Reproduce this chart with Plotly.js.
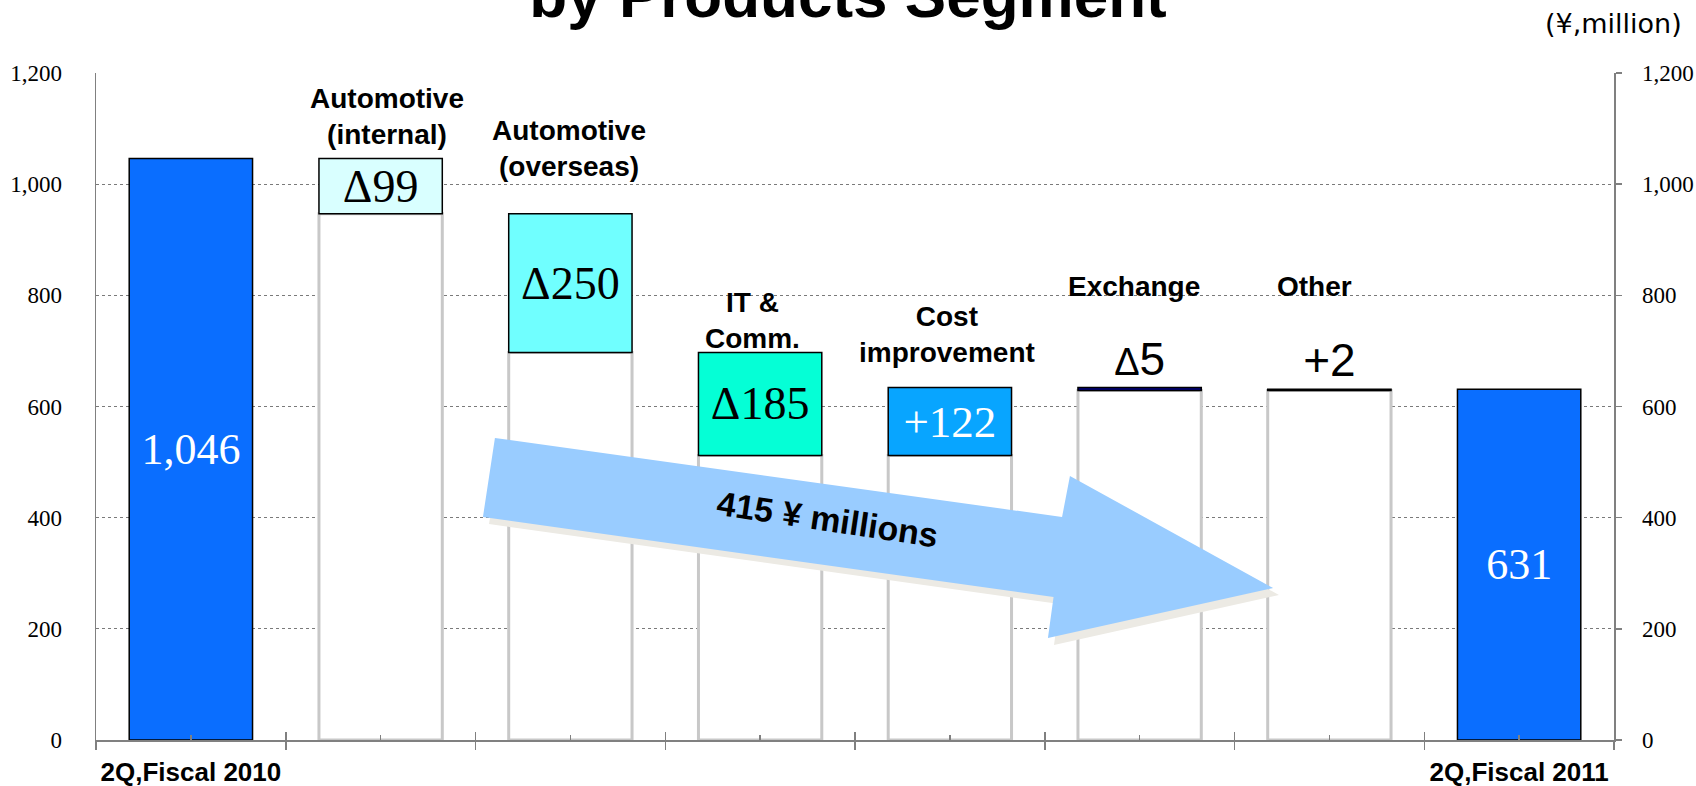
<!DOCTYPE html>
<html>
<head>
<meta charset="utf-8">
<script src="https://cdn.plot.ly/plotly-3.0.1.min.js"></script>
<style>
  html, body { margin: 0; padding: 0; background: #ffffff; }
  #chart { width: 1696px; height: 786px; }
</style>
</head>
<body>
<div id="chart"></div>
<script>
// ---------------- data ----------------
const periods = ['2Q,Fiscal 2010', '2Q,Fiscal 2011'];
const totals = [1046, 631];
const totalText = ['1,046', '631'];
const segments = ['Automotive (internal)', 'Automotive (overseas)', 'IT & Comm.', 'Cost improvement', 'Exchange', 'Other'];
const segmentLabels = ['Automotive<br>(internal)', 'Automotive<br>(overseas)', 'IT &<br>Comm.', 'Cost<br>improvement', 'Exchange', 'Other'];
const changes = [-99, -250, -185, 122, -5, 2];
const changeText = ['Δ99', 'Δ250', 'Δ185', '+122', '<span style="font-size:38px">Δ</span>5', '+2'];
const yTickVals = [0, 200, 400, 600, 800, 1000, 1200];
const arrowText = '415 ¥ millions';
const unitText = '(¥,million)';
const titleText = 'by Products Segment';

// ---------------- styles / layout config ----------------
const totalColor = '#0A6EFF';
const changeColors = ['#D9FFFF', '#70FFFF', '#05FFD6', '#08A5FF', '#000080', '#000000'];
const changeTextColors = ['#000', '#000', '#000', '#fff', '#000', '#000'];
const changeTextPos = ['inside', 'inside', 'inside', 'inside', 'outside', 'outside'];
const serif = '"Liberation Serif", "Times New Roman", serif';
const sans = '"Liberation Sans", Arial, sans-serif';
const changeFonts = [serif, serif, serif, serif, sans, sans];
const changeSizes = [46, 46, 46, 45, 46, 46];
const labelY = [1122, 1065, 754, 730, 816, 816];        // segment label vertical centres (data units)
const labelShiftX = [6, -1, -8, -3, -6, -15];           // small horizontal offsets (px)

// ---------------- build series ----------------
const categories = [periods[0]].concat(segments, [periods[1]]);
const ghostY = [0];
const mainBase = [0];
const mainY = [totals[0]];
const mainColors = [totalColor];
const mainText = [totalText[0]];
const textColors = ['#fff'];
const textPos = ['inside'];
const textFam = [serif];
const textSize = [44];
let running = totals[0];
changes.forEach((c, i) => {
  const from = running, to = running + c;
  const lo = Math.min(from, to);
  ghostY.push(lo);
  mainBase.push(lo);
  mainY.push(Math.abs(c));
  mainColors.push(changeColors[i]);
  mainText.push(changeText[i]);
  textColors.push(changeTextColors[i]);
  textPos.push(changeTextPos[i]);
  textFam.push(changeFonts[i]);
  textSize.push(changeSizes[i]);
  running = to;
});
ghostY.push(0);
mainBase.push(0);
mainY.push(totals[1]);
mainColors.push(totalColor);
mainText.push(totalText[1]);
textColors.push('#fff');
textPos.push('inside');
textFam.push(serif);
textSize.push(44);

const ghost = {
  type: 'bar', x: categories, y: ghostY,
  marker: { color: '#ffffff', line: { color: '#c8c8c8', width: 3 } },
  hoverinfo: 'skip', showlegend: false
};
const main = {
  type: 'bar', x: categories, y: mainY, base: mainBase,
  marker: { color: mainColors, line: { color: '#000000', width: 1.5 } },
  text: mainText, textposition: textPos, insidetextanchor: 'middle',
  constraintext: 'none', cliponaxis: false,
  textfont: { family: textFam, size: textSize, color: textColors },
  showlegend: false, hoverinfo: 'x+y'
};
// empty helper traces so overlay axes are drawn
const helperY2 = { type: 'scatter', x: [], y: [], yaxis: 'y2', showlegend: false, hoverinfo: 'skip' };
const helperX2 = { type: 'scatter', x: [], y: [], xaxis: 'x2', showlegend: false, hoverinfo: 'skip' };
const helperX3 = { type: 'scatter', x: [], y: [], xaxis: 'x3', showlegend: false, hoverinfo: 'skip' };

// plot frame in px (for decoration placement)
const L = 96, R = 1614, T = 73, B = 740;
const px = (x) => (x - L) / (R - L);
const py = (y) => (B - y) / (B - T);
function pathFrom(pts, dx, dy) {
  return pts.map((p, i) => (i ? 'L' : 'M') + px(p[0] + dx).toFixed(4) + ',' + py(p[1] + dy).toFixed(4)).join(' ') + ' Z';
}
const arrowPts = [[495, 438], [1062, 517], [1070, 476], [1273, 588], [1048, 638], [1053.5, 597], [483, 517]];

const annotations = segmentLabels.map((t, i) => ({
  x: segments[i], y: labelY[i], xref: 'x', yref: 'y', text: '<b>' + t + '</b>',
  showarrow: false, xanchor: 'center', yanchor: 'middle', xshift: labelShiftX[i],
  font: { family: sans, size: 28, color: '#000' }
}));
annotations.push({
  x: px(827), y: py(519), xref: 'paper', yref: 'paper', text: '<b>' + arrowText + '</b>',
  showarrow: false, textangle: 8.5, font: { family: sans, size: 34, color: '#000' },
  xanchor: 'center', yanchor: 'middle'
});
annotations.push({
  x: px(1684), y: py(24), xref: 'paper', yref: 'paper', text: unitText,
  showarrow: false, xanchor: 'right', yanchor: 'middle',
  font: { family: '"DejaVu Sans", "Noto Sans", sans-serif', size: 27, color: '#000' }
});

const tickText = categories.map((c) => (periods.includes(c) ? '<b>' + c + '</b>' : ''));

const layout = {
  width: 1696, height: 786,
  margin: { l: L, r: 1696 - R, t: T, b: 786 - B, pad: 0 },
  paper_bgcolor: '#ffffff', plot_bgcolor: '#ffffff',
  barmode: 'overlay', bargap: 0.35,
  title: {
    text: '<b>' + titleText + '</b>', x: 0.5, xanchor: 'center',
    xref: 'container', yref: 'container', y: 1 - 17 / 786, yanchor: 'bottom',
    font: { family: sans, size: 62, color: '#000' }
  },
  xaxis: {
    type: 'category', categoryorder: 'array', categoryarray: categories,
    range: [-0.5, categories.length - 0.5],
    tickvals: categories, ticktext: tickText, tickson: 'boundaries', tickangle: 0,
    ticks: 'outside', ticklen: 8, tickwidth: 1.5, tickcolor: '#808080',
    ticklabelstandoff: 8,
    tickfont: { family: sans, size: 26, color: '#000' },
    showline: true, linecolor: '#808080', linewidth: 2,
    showgrid: false, zeroline: false, fixedrange: true
  },
  xaxis2: {
    type: 'linear', overlaying: 'x', anchor: 'y', range: [-0.5, categories.length - 0.5],
    tickvals: categories.map((c, i) => i), ticks: 'inside', ticklen: 5, tickwidth: 1.5, tickcolor: '#808080',
    showticklabels: false, showline: false, showgrid: false, zeroline: false
  },
  xaxis3: {
    type: 'linear', overlaying: 'x', anchor: 'y', range: [-0.5, categories.length - 0.5],
    tickvals: categories.slice(1).map((c, i) => i + 0.5), ticks: 'inside', ticklen: 8, tickwidth: 1.5, tickcolor: '#808080',
    showticklabels: false, showline: false, showgrid: false, zeroline: false
  },
  yaxis: {
    range: [0, 1200], tickvals: yTickVals, tickformat: ',d',
    ticks: '', ticklabelstandoff: 28,
    tickfont: { family: serif, size: 23, color: '#000' },
    showline: true, linecolor: '#808080', linewidth: 1.5,
    showgrid: true, gridcolor: '#7a7a7a', gridwidth: 1, griddash: 'dot',
    zeroline: false, fixedrange: true
  },
  yaxis2: {
    overlaying: 'y', side: 'right', anchor: 'x',
    range: [0, 1200], tickvals: yTickVals, tickformat: ',d',
    ticks: 'outside', ticklen: 6, tickwidth: 1.5, tickcolor: '#808080', ticklabelstandoff: 16,
    tickfont: { family: serif, size: 23, color: '#000' },
    showline: true, linecolor: '#808080', linewidth: 1.5,
    showgrid: false, zeroline: false, fixedrange: true
  },
  shapes: [
    { type: 'path', xref: 'paper', yref: 'paper', layer: 'above',
      path: pathFrom(arrowPts, 6, 7), fillcolor: '#ECEAE4', line: { width: 0 } },
    { type: 'path', xref: 'paper', yref: 'paper', layer: 'above',
      path: pathFrom(arrowPts, 0, 0), fillcolor: '#99CCFF', line: { width: 0 } }
  ],
  annotations: annotations,
  showlegend: false,
  hovermode: false
};

Plotly.newPlot('chart', [ghost, main, helperY2, helperX2, helperX3], layout, { displayModeBar: false, staticPlot: true });
</script>
</body>
</html>
